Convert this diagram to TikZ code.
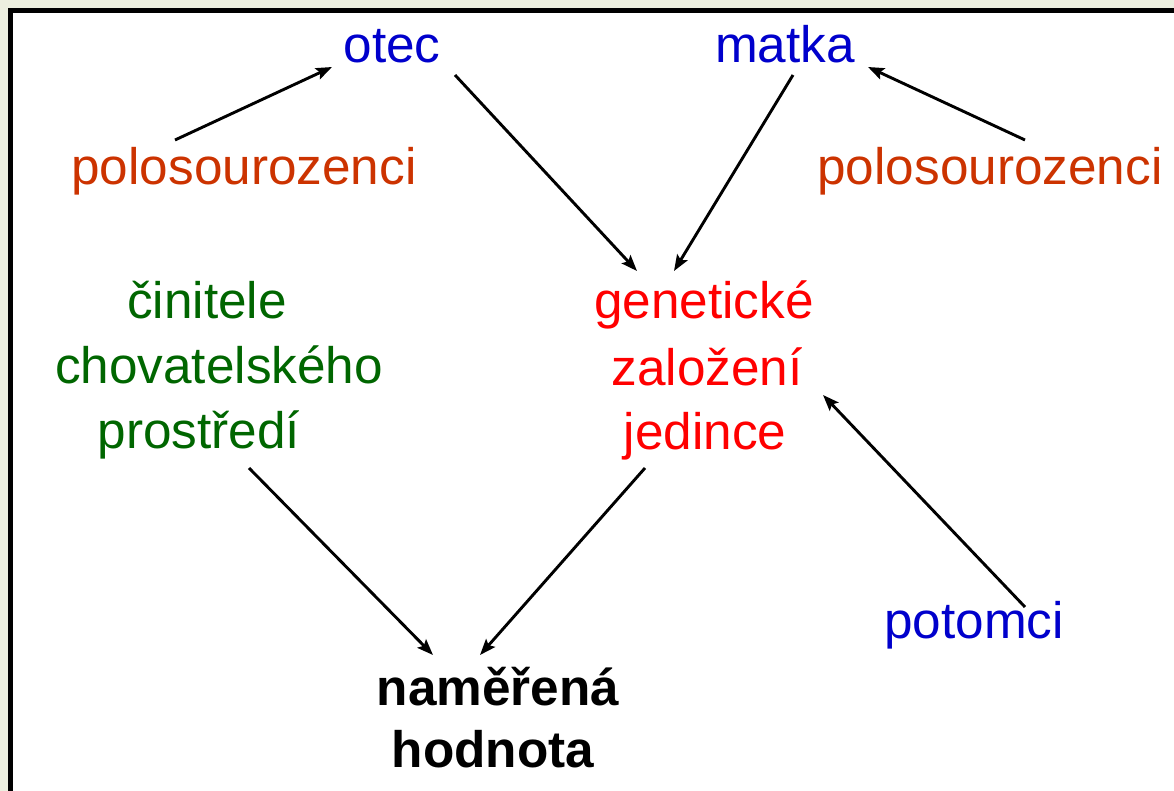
\documentclass[tikz,border=0pt]{standalone}
\usepackage{fontspec}
\setmainfont{Liberation Sans}
\usetikzlibrary{arrows.meta}
\definecolor{bgbeige}{HTML}{ECEFDF}
\definecolor{cblue}{HTML}{0000CC}
\definecolor{corange}{HTML}{CC3300}
\definecolor{cgreen}{HTML}{006600}
\definecolor{cred}{HTML}{FF0000}
\tikzset{
  lbl/.style={anchor=base, inner sep=0pt, font=\fontsize{51.3}{60}\selectfont},
  parent/.style={lbl, text=cblue},
  sib/.style={lbl, text=corange},
  env/.style={lbl, text=cgreen},
  gene/.style={lbl, text=cred},
  result/.style={lbl, text=black, font=\fontsize{51.3}{60}\selectfont\bfseries},
  arr/.style={draw=black, line width=2.9pt, -{Stealth[length=16pt,width=12pt,inset=3pt]}}
}
\begin{document}
\begin{tikzpicture}[x=1pt,y=-1pt]
\useasboundingbox (0,0) rectangle (1174,791);
\clip (0,0) rectangle (1174,791);
\fill[bgbeige] (0,0) rectangle (1174,791);
\draw[line width=5pt, fill=white] (10.5,10.5) rectangle (1200,820);
% nodes
\node[parent] (otec) at (392,63) {otec};
\node[parent] (matka) at (785,63) {matka};
\node[sib] (pl) at (244,185) {polosourozenci};
\node[sib] (pr) at (990,185) {polosourozenci};
\node[env] (cin1) at (207,318) {činitele};
\node[env] (cin2) at (219,383) {chovatelského};
\node[env] (cin3) at (199,448) {prostředí};
\node[gene] (gen1) at (704,318) {genetické};
\node[gene] (gen2) at (707,385) {založení};
\node[gene] (gen3) at (705,449) {jedince};
\node[parent] (pot) at (974,638) {potomci};
\node[result] (nam1) at (498,705) {naměřená};
\node[result] (nam2) at (493,767) {hodnota};
% connectors
\draw[arr] ([shift={(-69,-45)}]pl.base) -- ([shift={(-60,4)}]otec.base);
\draw[arr] ([shift={(63,12)}]otec.base) -- ([shift={(-67,-47)}]gen1.base);
\draw[arr] ([shift={(8,12)}]matka.base) -- ([shift={(-30,-47)}]gen1.base);
\draw[arr] ([shift={(35,-45)}]pr.base) -- ([shift={(83,4)}]matka.base);
\draw[arr] ([shift={(50,20)}]cin3.base) -- ([shift={(-65,-50)}]nam1.base);
\draw[arr] ([shift={(-60,19)}]gen3.base) -- ([shift={(-18,-50)}]nam1.base);
\draw[arr] ([shift={(51,-31)}]pot.base) -- ([shift={(116,10)}]gen2.base);
\end{tikzpicture}
\end{document}
